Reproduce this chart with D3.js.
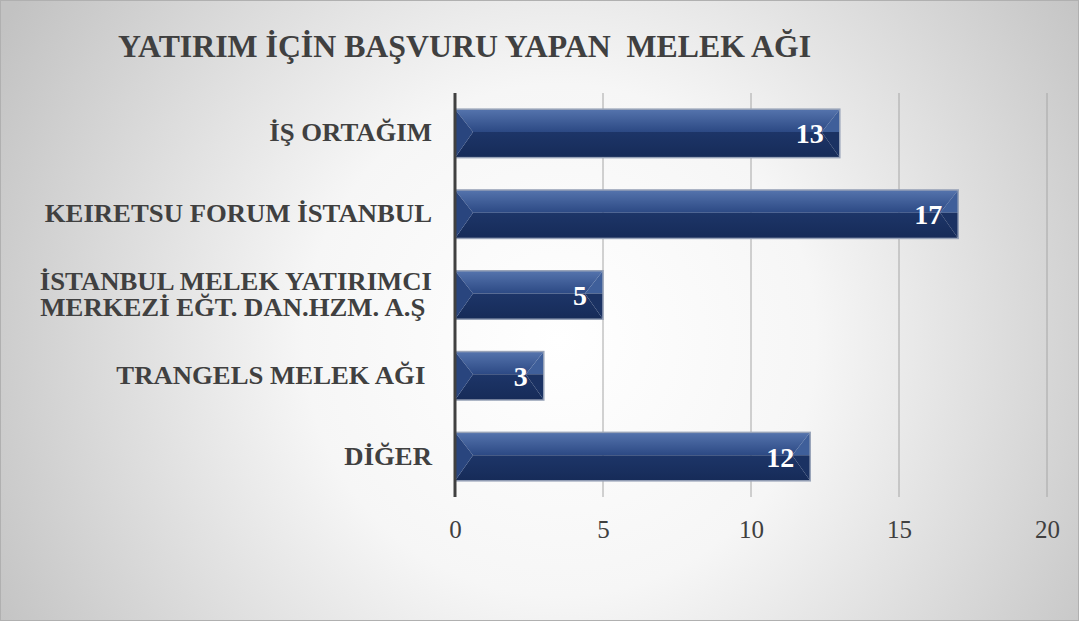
<!DOCTYPE html>
<html><head><meta charset="utf-8">
<script src="https://cdn.jsdelivr.net/npm/d3@7"></script>
<style>
html,body{margin:0;padding:0;background:#fff;}
svg{display:block;}
text{white-space:pre;}
</style></head>
<body>
<script>
const title = "YATIRIM İÇİN BAŞVURU YAPAN  MELEK AĞI";
const categories = [
  ["İŞ ORTAĞIM"],
  ["KEIRETSU FORUM İSTANBUL"],
  ["İSTANBUL MELEK YATIRIMCI", "MERKEZİ EĞT. DAN.HZM. A.Ş "],
  ["TRANGELS MELEK AĞI "],
  ["DİĞER"]
];
const values = [13, 17, 5, 3, 12];
const xTicks = [0, 5, 10, 15, 20];

const FONT = '"Liberation Serif","Times New Roman",Tinos,serif';
const W = 1079, H = 622;
const svg = d3.select("body").append("svg").attr("width", W).attr("height", H);
const defs = svg.append("defs");

const bg = defs.append("radialGradient").attr("id", "bg")
  .attr("gradientUnits", "userSpaceOnUse")
  .attr("cx", 560).attr("cy", 340).attr("r", 640);
bg.append("stop").attr("offset", "0").attr("stop-color", "#ffffff");
bg.append("stop").attr("offset", "0.4").attr("stop-color", "#f6f6f6");
bg.append("stop").attr("offset", "1").attr("stop-color", "#c2c2c2");

svg.append("rect").attr("x", 0.5).attr("y", 0.5).attr("width", W - 1).attr("height", H - 2)
  .attr("fill", "url(#bg)").attr("stroke", "#b0b0b0").attr("stroke-width", 1);

function lg(id, c0, c1) {
  const g = defs.append("linearGradient").attr("id", id).attr("x1", 0).attr("y1", 0).attr("x2", 0).attr("y2", 1);
  g.append("stop").attr("offset", "0").attr("stop-color", c0);
  g.append("stop").attr("offset", "1").attr("stop-color", c1);
}
lg("gUp", "#5574ad", "#2c4984");
lg("gLo", "#1d3568", "#162b58");

const margin = {left: 455, right: 32, top: 93, bottom: 125};
const x = d3.scaleLinear().domain([0, 20]).range([margin.left, W - margin.right]);
const y = d3.scaleBand().domain(d3.range(categories.length))
  .range([margin.top, H - margin.bottom]).paddingInner(0.4).paddingOuter(0.2);

// title
svg.append("text").attr("transform", "translate(118,57) scale(1.01,1)")
  .style("font-family", FONT)
  .attr("font-weight", "bold").attr("font-size", 31.5).attr("fill", "#404040")
  .text(title);

// gridlines
const yTop = margin.top, yBot = H - margin.bottom;
svg.append("g").selectAll("line").data(xTicks.slice(1)).join("line")
  .attr("x1", d => x(d)).attr("x2", d => x(d))
  .attr("y1", yTop).attr("y2", yBot)
  .attr("stroke", "#a6a6a6").attr("stroke-width", 1);

// x tick labels via axis
const xAxis = svg.append("g").attr("transform", `translate(0,${yBot})`)
  .call(d3.axisBottom(x).tickValues(xTicks).tickSize(0).tickPadding(23));
xAxis.select(".domain").remove();
xAxis.attr("font-family", null);
xAxis.selectAll("text").style("font-family", FONT)
  .attr("font-size", 25).attr("fill", "#404040");

// bars
const bars = svg.append("g").selectAll("g").data(values).join("g");
bars.each(function(v, i) {
  const g = d3.select(this);
  const x0 = x(0), x1 = x(v), y0 = y(i), h = y.bandwidth(), y1 = y0 + h;
  const bx = Math.min(18, (x1 - x0) / 2), ym = y0 + h * 0.47;
  g.append("path").attr("d", `M${x0},${y0}L${x1},${y0}L${x1 - bx},${ym}L${x0 + bx},${ym}Z`)
    .attr("fill", "url(#gUp)");
  g.append("path").attr("d", `M${x0},${y1}L${x1},${y1}L${x1 - bx},${ym}L${x0 + bx},${ym}Z`)
    .attr("fill", "url(#gLo)");
  g.append("path").attr("d", `M${x0},${y0}L${x0 + bx},${ym}L${x0},${y1}Z`)
    .attr("fill", "#29457e");
  g.append("path").attr("d", `M${x1},${y0}L${x1 - bx},${ym}L${x1},${ym}Z`)
    .attr("fill", "#3f5f9a");
  g.append("path").attr("d", `M${x1},${ym}L${x1 - bx},${ym}L${x1},${y1}Z`)
    .attr("fill", "#1b3263");
  g.append("rect").attr("x", x0).attr("y", y0).attr("width", x1 - x0).attr("height", h)
    .attr("fill", "none").attr("stroke", "#98a3b8").attr("stroke-width", 1.5);
  g.append("text").attr("x", x1 - 16).attr("y", y0 + h / 2 + 10)
    .attr("text-anchor", "end")
    .style("font-family", FONT)
    .attr("font-weight", "bold").attr("font-size", 28).attr("fill", "#ffffff")
    .text(v);
});

// category axis line
svg.append("line").attr("x1", x(0)).attr("x2", x(0)).attr("y1", yTop).attr("y2", yBot)
  .attr("stroke", "#404040").attr("stroke-width", 3);

// category labels
const cat = svg.append("g");
categories.forEach((lines, i) => {
  const cy = y(i) + y.bandwidth() / 2;
  const lh = 26;
  lines.forEach((ln, k) => {
    const ty = cy + 8 + (k - (lines.length - 1) / 2) * lh;
    cat.append("text").attr("text-anchor", "end")
      .attr("transform", `translate(432,${ty}) scale(1.07,1)`)
      .style("font-family", FONT)
      .attr("font-weight", "bold").attr("font-size", 25).attr("fill", "#404040")
      .text(ln);
  });
});
</script>
</body></html>
